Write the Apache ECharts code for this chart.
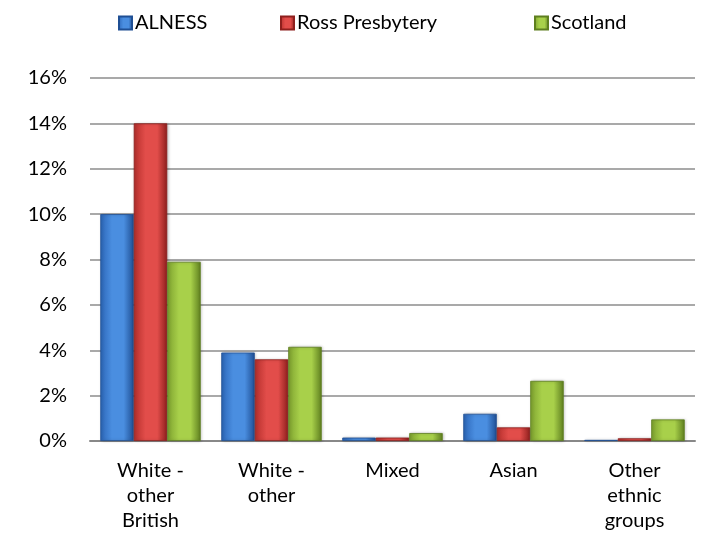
<!DOCTYPE html>
<html><head><meta charset="utf-8">
<script src="https://cdn.jsdelivr.net/npm/echarts@6/dist/echarts.min.js"></script>
<style>html,body{margin:0;padding:0;background:#fff}#c{width:707px;height:547px}</style>
</head><body><div id="c"></div>
<script>
const categories = ['White -\nother\nBritish', 'White -\nother', 'Mixed', 'Asian', 'Other\nethnic\ngroups'];
const seriesNames = ['ALNESS', 'Ross Presbytery', 'Scotland'];
const alness = [10.0, 3.9, 0.15, 1.2, 0.05];
const ross = [14.0, 3.6, 0.15, 0.6, 0.12];
const scotland = [7.9, 4.15, 0.35, 2.65, 0.95];
const yTicks = [0, 2, 4, 6, 8, 10, 12, 14, 16];

const palettes = [
  ['#1f4f94', '#4a8ee0', '#2c66b8'],
  ['#8e1f1d', '#e24d4a', '#b52f2c'],
  ['#5e7f1f', '#a8d04a', '#7ea22f']
];
function grad(p) {
  return new echarts.graphic.LinearGradient(0, 0, 1, 0, [
    {offset: 0, color: p[2]}, {offset: 0.35, color: p[1]}, {offset: 0.7, color: p[1]}, {offset: 1, color: p[0]}
  ]);
}
const font = 'Lato, "Open Sans", sans-serif';
const chart = echarts.init(document.getElementById('c'));
const data = [alness, ross, scotland];
const legendLefts = [113, 275, 529];
chart.setOption({
  animation: false,
  textStyle: {fontFamily: font},
  legend: seriesNames.map((n, i) => ({
    top: 8, left: legendLefts[i], itemWidth: 13, itemHeight: 13, itemGap: 4,
    textStyle: {fontSize: 20, color: '#000', fontFamily: font, padding: [0, 0, 0, -2]},
    data: [{name: n, icon: 'rect', itemStyle: {color: grad(palettes[i])}}]
  })),
  grid: {left: 90, right: 12, top: 78, bottom: 106},
  xAxis: {
    type: 'category', data: categories,
    axisLine: {lineStyle: {color: '#888', width: 2}},
    axisTick: {show: false},
    axisLabel: {fontSize: 20, color: '#000', lineHeight: 25, margin: 17, fontFamily: font}
  },
  yAxis: {
    type: 'value', min: 0, max: 16, interval: 2,
    axisLine: {show: false}, axisTick: {show: false},
    axisLabel: {fontSize: 20, color: '#000', margin: 23, formatter: v => yTicks.includes(v) ? v + '%' : '', fontFamily: font},
    splitLine: {lineStyle: {color: '#8c8c8c', width: 1.5}}
  },
  series: seriesNames.map((n, i) => ({
    name: n, type: 'bar', data: data[i], barGap: '0%', barCategoryGap: '17%',
    itemStyle: {color: grad(palettes[i]), borderColor: palettes[i][0], borderWidth: 0.8,
      shadowColor: 'rgba(0,0,0,0.25)', shadowBlur: 3, shadowOffsetX: 1}
  }))
});
</script></body></html>
